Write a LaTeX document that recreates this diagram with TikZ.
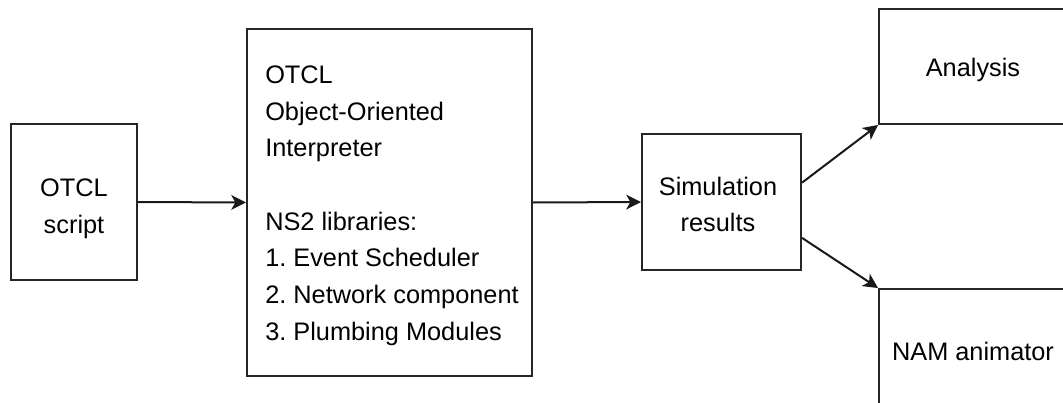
\documentclass[tikz,border=0pt]{standalone}
\usepackage{fontspec}
\setmainfont{Liberation Sans}
\usetikzlibrary{arrows.meta,calc}

\begin{document}
\frenchspacing
\begin{tikzpicture}[x=0.75pt,y=-0.75pt,
    box/.style={draw=black!85,line width=1.5pt,fill=white,inner sep=0pt},
    txt/.style={inner sep=0pt,align=center,font={\fontsize{19}{27.5}\selectfont}},
    flow/.style={draw=black!90,line width=1.5pt,
        -{Stealth[length=11pt,width=11pt,inset=3pt]}}]

  % page frame (boxes on the right run past its edge)
  \clip (0,0) rectangle (1063,403);
  \fill[white] (0,0) rectangle (1063,403);

  % boxes
  \node[box,minimum width=94.5pt,minimum height=117pt]    (otcl)   at (74,202)    {};
  \node[box,minimum width=213.75pt,minimum height=260.25pt] (interp) at (389.5,202.5) {};
  \node[box,minimum width=119.25pt,minimum height=102pt]  (sim)    at (721.5,202) {};
  \node[box,minimum width=141pt,minimum height=86.25pt]   (ana)    at (973,66.5)  {};
  \node[box,minimum width=141pt,minimum height=94.5pt]    (nam)    at (973,352)   {};

  % texts
  \node[txt] (otcltext) at (74,208.5) {OTCL\\script};
  \node[txt,anchor=north west,align=left] (interptext) at (265,65.5)
    {OTCL\\Object-Oriented\\Interpreter\\[27.5pt]NS2 libraries:\\1. Event Scheduler\\2. Network component\\3. Plumbing Modules};
  \node[txt] (simtext) at (718,204.5) {Simulation\\results};
  \node[txt] (anatext) at (973,70)    {Analysis};
  \node[txt] (namtext) at (973,351)   {NAM animator};

  % connectors
  \draw[flow] (otcl.east) -- (interp.west);
  \draw[flow] (interp.east) -- (sim.west);
  \draw[flow] ($(sim.north east)!0.36!(sim.south east)$) -- (ana.south west);
  \draw[flow] ($(sim.north east)!0.76!(sim.south east)$) -- (nam.north west);
\end{tikzpicture}
\end{document}
